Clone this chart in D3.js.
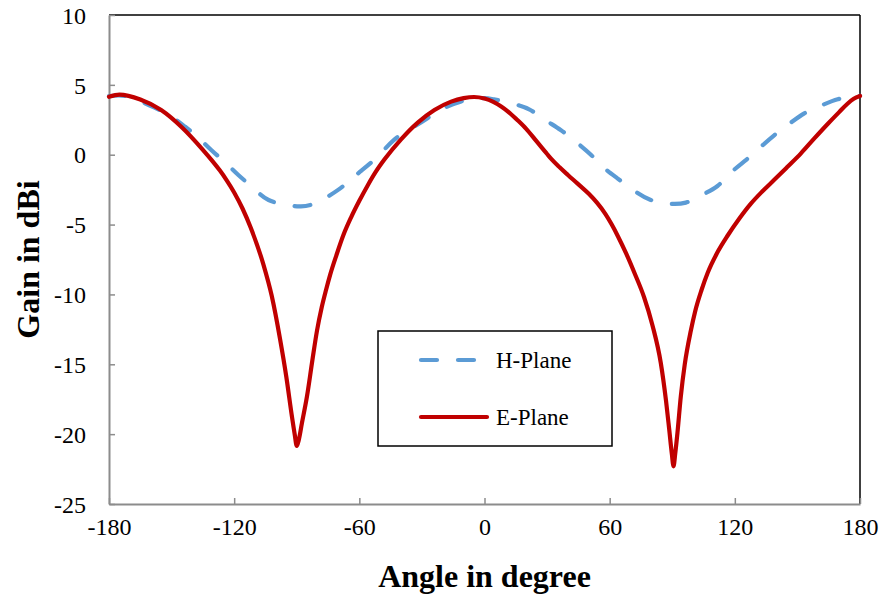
<!DOCTYPE html>
<html>
<head>
<meta charset="utf-8">
<script src="https://cdn.jsdelivr.net/npm/d3@7"></script>
<style>
  html, body { margin: 0; padding: 0; background: #fff; }
  svg { display: block; font-family: "Liberation Serif", "Times New Roman", serif; }
</style>
</head>
<body>
<svg id="chart" width="882" height="596"></svg>
<script>
// Radiation pattern: gain (dBi) versus angle (degrees)
const eAngles = [-180, -175, -165, -155, -145, -135, -131, -127, -123.5, -120, -116, -112, -106, -102, -98, -95, -92.3, -91, -90, -89, -87.5, -85.1, -82.5, -80.3, -78, -76, -74, -71, -67.5, -64, -60, -56, -52, -48, -40, -32, -24, -16, -10, -5, 0, 4, 8, 12, 16, 20, 25, 30, 32, 36, 40, 44.5, 50, 54, 58, 61, 64, 68, 72, 76.5, 80.5, 84.5, 87, 88.5, 89.8, 90.6, 91.5, 92.5, 94.1, 96, 98.9, 101, 104, 107, 112, 116.5, 122, 127.7, 133, 138.9, 145, 151.7, 158, 164.5, 170, 174, 177, 180];
const eGain   = [4.15, 4.3, 3.95, 3.2, 1.95, 0.35, -0.35, -1.1, -1.85, -2.7, -3.85, -5.25, -7.85, -10.1, -13.2, -15.9, -18.75, -20.0, -20.85, -20.4, -19.2, -17.3, -14.7, -12.6, -10.9, -9.7, -8.6, -7.2, -5.7, -4.5, -3.3, -2.2, -1.2, -0.35, 1.1, 2.3, 3.2, 3.8, 4.05, 4.13, 4.02, 3.8, 3.45, 3.0, 2.45, 1.85, 0.95, 0.05, -0.3, -0.9, -1.45, -2.05, -2.8, -3.45, -4.25, -5.0, -5.85, -7.1, -8.5, -10.2, -12.2, -14.9, -17.6, -19.6, -21.4, -22.3, -21.3, -19.9, -17.3, -15.0, -12.6, -11.2, -9.7, -8.45, -6.9, -5.8, -4.6, -3.5, -2.65, -1.8, -0.9, 0.1, 1.15, 2.2, 3.05, 3.65, 4.0, 4.2];

const hAngles = [-180, -172, -163, -152, -143.5, -137, -131, -124, -118, -110, -103.5, -95, -88, -80, -70, -65, -59.5, -51, -43.5, -35, -27.5, -20, -11.5, -5, 0, 4.5, 10, 16, 22, 29, 36.5, 44, 51, 57, 63.7, 72, 79.7, 88, 96.5, 104, 111.7, 118, 125.3, 132, 139, 146, 153.3, 161, 169.3, 175, 180];
const hGain   = [4.2, 4.2, 3.7, 2.9, 2.0, 1.2, 0.34, -0.6, -1.45, -2.5, -3.24, -3.6, -3.7, -3.4, -2.5, -1.9, -1.2, -0.1, 1.05, 1.9, 2.6, 3.3, 3.8, 4.0, 4.05, 3.96, 3.8, 3.55, 3.2, 2.5, 1.77, 0.9, 0.0, -0.9, -1.69, -2.6, -3.24, -3.5, -3.43, -2.9, -2.24, -1.3, -0.38, 0.5, 1.41, 2.2, 2.96, 3.5, 3.97, 4.1, 4.22];

const xTicks = [-180, -120, -60, 0, 60, 120, 180];
const yTicks = [-25, -20, -15, -10, -5, 0, 5, 10];
const seriesNames = ["H-Plane", "E-Plane"];

const svg = d3.select("#chart");
const m = { left: 109, right: 860, top: 15, bottom: 504 };

const x = d3.scaleLinear().domain([-180, 180]).range([m.left, m.right]);
const y = d3.scaleLinear().domain([-25, 10]).range([m.bottom, m.top]);

const grey = "#8c8c8c";
const fmt = d => String(d);   // plain hyphen for negatives

// Frame: left and bottom in grey, top and right in black
svg.append("line").attr("x1", m.left).attr("x2", m.right).attr("y1", m.top).attr("y2", m.top)
  .attr("stroke", "#000").attr("stroke-width", 1.5);
svg.append("line").attr("x1", m.right).attr("x2", m.right).attr("y1", m.top).attr("y2", m.bottom)
  .attr("stroke", "#000").attr("stroke-width", 1.5);

// Axes with inward ticks
const xAxis = svg.append("g").attr("transform", `translate(0,${m.bottom})`)
  .call(d3.axisBottom(x).tickValues(xTicks).tickFormat(fmt).tickSize(-6).tickSizeOuter(0).tickPadding(14));
const yAxis = svg.append("g").attr("transform", `translate(${m.left},0)`)
  .call(d3.axisLeft(y).tickValues(yTicks).tickFormat(fmt).tickSize(-6).tickSizeOuter(0).tickPadding(23));

[xAxis, yAxis].forEach(a => {
  a.select(".domain").attr("stroke", grey).attr("stroke-width", 2);
  a.selectAll(".tick line").attr("stroke", grey).attr("stroke-width", 1.5);
  a.selectAll(".tick text").attr("fill", "#000")
    .style("font-family", "'Liberation Serif', 'Times New Roman', serif")
    .style("font-size", "24px");
});
xAxis.selectAll(".tick text").attr("dy", "0.71em");
yAxis.selectAll(".tick text").attr("dy", "0.34em");

// Axis titles
svg.append("text").attr("x", (m.left + m.right) / 2).attr("y", 587)
  .attr("text-anchor", "middle").attr("font-weight", "bold").attr("font-size", 32)
  .text("Angle in degree");
svg.append("text").attr("transform", `translate(39,${(m.top + m.bottom) / 2}) rotate(-90)`)
  .attr("text-anchor", "middle").attr("font-weight", "bold").attr("font-size", 32)
  .text("Gain in dBi");

// Curves
const line = d3.line().x(d => x(d[0])).y(d => y(d[1]));
const hData = hAngles.map((a, i) => [a, hGain[i]]);
const eData = eAngles.map((a, i) => [a, eGain[i]]);

svg.append("path").datum(hData).attr("d", line.curve(d3.curveNatural))
  .attr("fill", "none").attr("stroke", "#5b9bd5").attr("stroke-width", 4.2)
  .attr("stroke-linecap", "round").attr("stroke-dasharray", "16,21");
svg.append("path").datum(eData).attr("d", line.curve(d3.curveMonotoneX))
  .attr("fill", "none").attr("stroke", "#c00000").attr("stroke-width", 4.2)
  .attr("stroke-linejoin", "round").attr("stroke-linecap", "round");

// Legend
const lg = svg.append("g");
lg.append("rect").attr("x", 378).attr("y", 331).attr("width", 234).attr("height", 115)
  .attr("fill", "#fff").attr("stroke", "#000").attr("stroke-width", 1.5);
const legendStyles = [
  { color: "#5b9bd5", dash: "16,21", y: 360 },
  { color: "#c00000", dash: null, y: 417 }
];
seriesNames.forEach((name, i) => {
  const s = legendStyles[i];
  lg.append("line").attr("x1", 421).attr("x2", i === 0 ? 474 : 487).attr("y1", s.y).attr("y2", s.y)
    .attr("stroke", s.color).attr("stroke-width", 4.2).attr("stroke-linecap", "round")
    .attr("stroke-dasharray", s.dash);
  lg.append("text").attr("x", 496).attr("y", s.y + 8).attr("font-size", 23).text(name);
});
</script>
</body>
</html>
